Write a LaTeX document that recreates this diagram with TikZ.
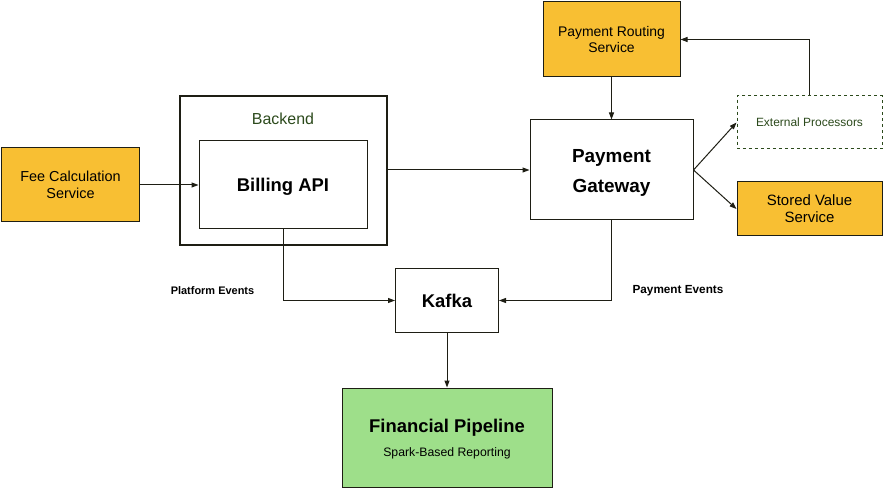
\documentclass[tikz,border=0pt]{standalone}
\usepackage{fontspec}
\setmainfont{Liberation Sans}
\usetikzlibrary{arrows.meta}

\definecolor{svcorange}{HTML}{F8BF33}
\definecolor{pipegreen}{HTML}{9EDF8A}
\definecolor{darkline}{HTML}{1E1E14}
\definecolor{backtext}{HTML}{2C4A1C}

\tikzset{
    svc/.style={draw=darkline, line width=1bp, fill=svcorange, align=center,
        inner sep=0pt, font=\fontsize{14.5}{17}\selectfont},
    plain/.style={draw=darkline, line width=1bp, fill=white, align=center, inner sep=0pt},
    flow/.style={draw=darkline, line width=1bp, -{Triangle[length=7bp,width=5bp]}},
    evlabel/.style={font=\fontsize{11}{13}\selectfont\bfseries}
}

\begin{document}
\begin{tikzpicture}[x=1bp, y=-1bp]
        \useasboundingbox (0,0) rectangle (884,490);
        \node[svc, minimum width=137bp, minimum height=74bp] (fee) at (70.5, 185) {Fee Calculation\\Service};
        \node[draw=darkline, line width=1.6bp, minimum width=207bp, minimum height=149bp] (back) at (283.5, 170.5) {};
        \node[text=backtext, font=\fontsize{16}{18}\selectfont] (backlbl) at (283, 119) {Backend};
        \node[plain, minimum width=168bp, minimum height=88bp, text depth=0pt,
            font=\fontsize{18.5}{21}\selectfont\bfseries] (bill) at (283, 185) {Billing API};
        \node[plain, minimum width=163bp, minimum height=100bp] (gate) at (611.5, 170) {};
        \node[align=center, font=\fontsize{19}{31}\selectfont\bfseries] (gatetxt) at (611.5, 173) {Payment\\Gateway};
        \node[svc, minimum width=137bp, minimum height=75bp, font=\fontsize{14}{16}\selectfont] (route) at (611.5, 39.5) {Payment Routing\\Service};
        \node[draw=backtext, dashed, line width=1bp, fill=white, minimum width=145bp, minimum height=53bp,
            font=\fontsize{12}{14}\selectfont, text=backtext] (ext) at (809.5, 122.5) {External Processors};
        \node[svc, minimum width=145bp, minimum height=54bp, font=\fontsize{15}{17}\selectfont] (stored) at (809.5, 209) {Stored Value\\Service};
        \node[plain, minimum width=103bp, minimum height=64bp, font=\fontsize{18.5}{21}\selectfont\bfseries] (kafka) at (447, 300.5) {Kafka};
        \node[draw=darkline, line width=1bp, fill=pipegreen, minimum width=210bp, minimum height=99bp] (pipe) at (447, 437.5) {};
        \node[font=\fontsize{18.5}{21}\selectfont\bfseries] (pipetitle) at (447, 428) {Financial Pipeline};
        \node[font=\fontsize{12.3}{14}\selectfont] (pipesub) at (447, 453) {Spark-Based Reporting};
        \node[evlabel] (platev) at (212.5, 291) {Platform Events};
        \node[evlabel, font=\fontsize{11.8}{14}\selectfont\bfseries] (payev) at (678, 291) {Payment Events};

        \draw[flow] (fee.east) -- (bill.west);
        \draw[flow] (back.east |- gate.west) -- (gate.west);
        \draw[flow] (route.south) -- (gate.north);
        \draw[flow] (gate.east) -- (ext.west);
        \draw[flow] (gate.east) -- (stored.west);
        \draw[flow] (ext.north) |- (route.east);
        \draw[flow] (bill.south) |- (kafka.west);
        \draw[flow] (gate.south) |- (kafka.east);
        \draw[flow] (kafka.south) -- (pipe.north);
\end{tikzpicture}
\end{document}
